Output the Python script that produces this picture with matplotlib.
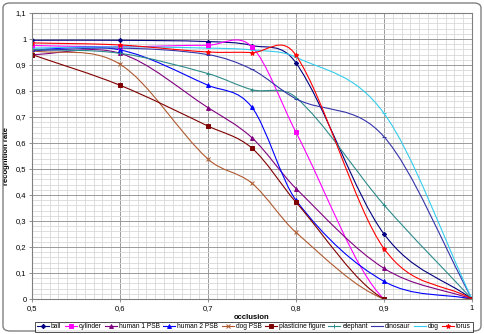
import numpy as np
import matplotlib
matplotlib.use('Agg')
import matplotlib.pyplot as plt
from matplotlib.path import Path
from matplotlib.patches import PathPatch, FancyBboxPatch
from matplotlib.lines import Line2D
from matplotlib.ticker import MultipleLocator, FuncFormatter

plt.rcParams['font.family'] = ['Liberation Sans', 'DejaVu Sans']

# occlusion levels
occlusion = [0.5, 0.6, 0.7, 0.75, 0.8, 0.9, 1.0]

# recognition rate per model
ball = [0.995, 0.995, 0.990, 0.975, 0.908, 0.250, 0.0]
cylinder = [0.975, 0.970, 0.976, 0.970, 0.641, 0.0, 0.0]
human1 = [0.940, 0.945, 0.736, 0.620, 0.425, 0.118, 0.0]
human2 = [0.960, 0.958, 0.822, 0.737, 0.380, 0.068, 0.0]
dog_psb = [0.955, 0.903, 0.538, 0.445, 0.256, 0.0, 0.0]
plasticine = [0.940, 0.822, 0.665, 0.580, 0.372, 0.0, 0.0]
elephant = [0.960, 0.945, 0.867, 0.805, 0.775, 0.362, 0.0]
dinosaur = [0.955, 0.965, 0.940, 0.883, 0.770, 0.624, 0.0]
dog = [0.965, 0.970, 0.965, 0.958, 0.930, 0.714, 0.0]
torus = [0.985, 0.977, 0.950, 0.948, 0.937, 0.194, 0.0]

names = ['ball', 'cylinder', 'human 1 PSB', 'human 2 PSB', 'dog PSB',
         'plasticine figure', 'elephant', 'dinosaur', 'dog', 'torus']
series = [ball, cylinder, human1, human2, dog_psb, plasticine, elephant,
          dinosaur, dog, torus]
colors = ['#000080', '#FF00FF', '#800080', '#0000FF', '#B05A30',
          '#800000', '#2E8B8B', '#3333AA', '#33CCEE', '#FF0000']
markers = ['D', 's', '^', '^', 'x', 's', '+', '_', '_', '*']
msizes = [2.2, 2.6, 2.8, 2.8, 2.8, 2.6, 3.5, 3.5, 3.5, 3.5]


def smooth_path(xs, ys):
    # excel-like smoothed line, bezier segments with tangents
    # scaled to the neighbouring x spacing
    pts = np.column_stack([xs, ys])
    n = len(pts)
    verts = [pts[0]]
    codes = [Path.MOVETO]
    for i in range(n - 1):
        p0 = pts[max(i - 1, 0)]
        p1 = pts[i]
        p2 = pts[i + 1]
        p3 = pts[min(i + 2, n - 1)]
        d01 = p1[0] - p0[0]
        d12 = p2[0] - p1[0]
        d23 = p3[0] - p2[0]
        c1 = p1 + (p2 - p0) * d12 / (d01 + d12) / 3.0
        c2 = p2 - (p3 - p1) * d12 / (d12 + d23) / 3.0
        verts += [c1, c2, p2]
        codes += [Path.CURVE4] * 3
    return Path(verts, codes)


fig = plt.figure(figsize=(4.85, 3.34), dpi=100)
ax = fig.add_axes([32 / 485, 1 - 299 / 334, 440 / 485, 286 / 334])

ax.set_xlim(0.5, 1.0)
ax.set_ylim(0, 1.1)

ax.xaxis.set_major_locator(MultipleLocator(0.1))
ax.xaxis.set_minor_locator(MultipleLocator(0.01))
ax.yaxis.set_major_locator(MultipleLocator(0.1))
ax.yaxis.set_minor_locator(MultipleLocator(0.02))
ax.grid(which='minor', color='#d8d8d8', linewidth=0.6)
ax.grid(which='major', color='#9a9a9a', linewidth=0.7)
ax.set_axisbelow(True)

comma = FuncFormatter(lambda v, p: ('%g' % round(v, 2)).replace('.', ','))
ax.xaxis.set_major_formatter(comma)
ax.yaxis.set_major_formatter(comma)
ax.tick_params(which='major', labelsize=5.5, length=2.5, width=0.6,
               color='#808080', pad=1.5)
ax.tick_params(which='minor', length=0)

for sp in ax.spines.values():
    sp.set_color('#808080')
    sp.set_linewidth(0.8)

handles = []
for ys, nm, c, m, ms in zip(series, names, colors, markers, msizes):
    ax.add_patch(PathPatch(smooth_path(occlusion, ys), facecolor='none',
                           edgecolor=c, linewidth=0.8))
    ax.plot(occlusion, ys, linestyle='none', marker=m, markersize=ms,
            color=c, markeredgewidth=0.7)
    handles.append(Line2D([], [], color=c, marker=m, markersize=ms,
                          linewidth=0.8, markeredgewidth=0.7, label=nm))

ax.set_xlabel('occlusion', fontsize=5.5, fontweight='bold', labelpad=1.5)
ax.set_ylabel('recognition rate', fontsize=5.5, fontweight='bold', labelpad=4)

leg = fig.legend(handles=handles, loc='center', ncol=10,
                 bbox_to_anchor=(254 / 485, 1 - 327 / 334), fontsize=4.8,
                 frameon=True, fancybox=False, handlelength=1.8,
                 handletextpad=0.3, columnspacing=0.5, borderpad=0.25,
                 borderaxespad=0)
leg.get_frame().set_edgecolor('black')
leg.get_frame().set_linewidth(0.6)

border = FancyBboxPatch((3 / 485, 3 / 334), 478 / 485, 328 / 334,
                        boxstyle='round,pad=0,rounding_size=0.015',
                        transform=fig.transFigure, facecolor='none',
                        edgecolor='#808080', linewidth=1.0)
fig.patches.append(border)

fig.savefig('out.png', dpi=100)
